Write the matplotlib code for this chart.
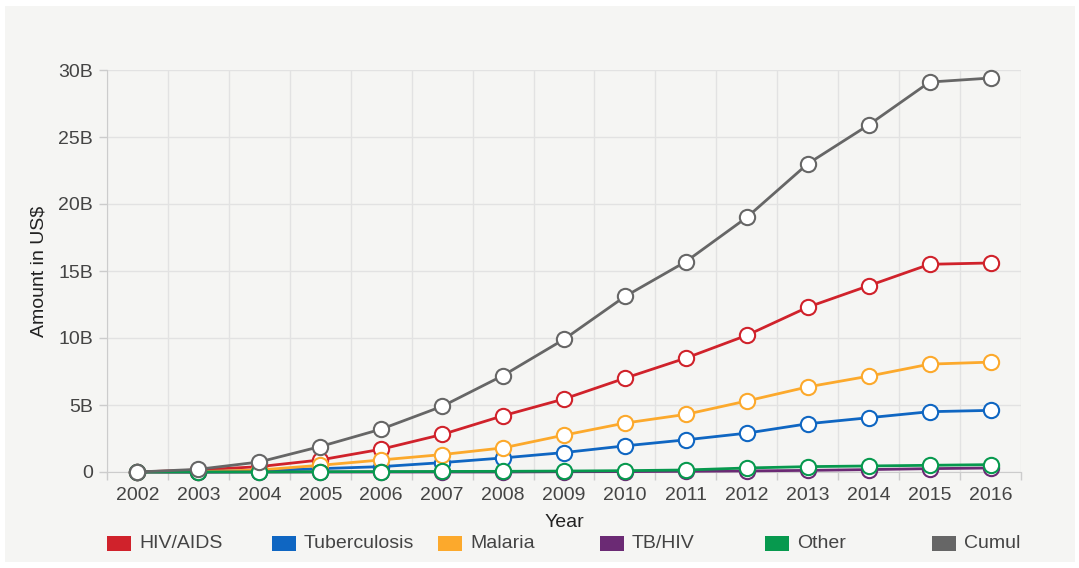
import matplotlib
matplotlib.use("Agg")
import matplotlib.pyplot as plt
from matplotlib.patches import Rectangle
from matplotlib.ticker import FuncFormatter, FixedLocator

plt.rcParams['font.family'] = ['Liberation Sans', 'DejaVu Sans']

years = [2002, 2003, 2004, 2005, 2006, 2007, 2008, 2009, 2010, 2011, 2012, 2013, 2014, 2015, 2016]

# Amounts in billions of US$
hiv_aids = [0.0, 0.15, 0.4, 0.9, 1.7, 2.8, 4.2, 5.45, 7.0, 8.5, 10.2, 12.3, 13.9, 15.5, 15.6]
tuberculosis = [0.0, 0.03, 0.1, 0.25, 0.4, 0.7, 1.05, 1.45, 1.95, 2.4, 2.9, 3.6, 4.05, 4.5, 4.6]
malaria = [0.0, 0.02, 0.15, 0.5, 0.9, 1.3, 1.8, 2.75, 3.65, 4.3, 5.3, 6.35, 7.15, 8.05, 8.2]
tb_hiv = [0.0, -0.02, 0.0, 0.0, 0.0, 0.0, 0.0, 0.02, 0.03, 0.05, 0.08, 0.12, 0.18, 0.25, 0.3]
other = [0.0, 0.0, 0.0, 0.02, 0.03, 0.04, 0.05, 0.07, 0.1, 0.15, 0.3, 0.4, 0.45, 0.5, 0.55]
cumulative = [0.0, 0.2, 0.75, 1.9, 3.2, 4.9, 7.2, 9.9, 13.1, 15.7, 19.0, 23.0, 25.9, 29.1, 29.4]

series_names = ['HIV/AIDS', 'Tuberculosis', 'Malaria', 'TB/HIV', 'Other', 'Cumulative']
series_values = [hiv_aids, tuberculosis, malaria, tb_hiv, other, cumulative]
series_colors = ['#d0222b', '#0f66c2', '#fca92c', '#6b2a74', '#07994e', '#666666']

y_ticks = [0, 5, 10, 15, 20, 25, 30]

W, H = 1079, 568
fig = plt.figure(figsize=(W / 100, H / 100), dpi=100, facecolor='white')

# light panel behind the chart
fig.patches.append(Rectangle((5 / W, 6 / H), 1070 / W, 556 / H, transform=fig.transFigure,
                             facecolor='#f5f5f3', edgecolor='none', zorder=-5))

ax = fig.add_axes([107 / W, 96 / H, 914 / W, 402 / H])
ax.patch.set_alpha(0)

x = list(range(len(years)))
for name, vals, col in zip(series_names, series_values, series_colors):
    ax.plot(x, vals, color=col, lw=2.0, marker='o', ms=11, mfc='white', mec=col,
            mew=1.5, clip_on=False, zorder=3, label=name)

ax.set_xlim(-0.5, len(years) - 0.5)
ax.set_ylim(0, 30)

ax.xaxis.set_major_locator(FixedLocator(x))
ax.set_xticklabels([str(y) for y in years])
ax.xaxis.set_minor_locator(FixedLocator([i - 0.5 for i in range(len(years) + 1)]))
ax.tick_params(axis='x', which='major', length=0, pad=11, labelsize=14, labelcolor='#444444')
ax.tick_params(axis='x', which='minor', length=6, color='#cccccc', width=1)

ax.set_yticks(y_ticks)
ax.yaxis.set_major_formatter(FuncFormatter(lambda v, p: '0' if v == 0 else f'{int(v)}B'))
ax.tick_params(axis='y', length=6, color='#cccccc', width=1, pad=4, labelsize=14,
               labelcolor='#444444')

ax.grid(True, which='major', axis='y', color='#e2e2e2', lw=1, zorder=0)
ax.grid(True, which='minor', axis='x', color='#e2e2e2', lw=1, zorder=0)
ax.set_axisbelow(True)

for side in ['top', 'right']:
    ax.spines[side].set_visible(False)
ax.spines['left'].set_color('#cccccc')
ax.spines['bottom'].set_color('#cccccc')

ax.set_xlabel('Year', fontsize=14, color='#222222', labelpad=7)
ax.set_ylabel('Amount in US$', fontsize=14, color='#222222', labelpad=8)

# legend row beneath the axis, clipped at the chart's right edge
legend_x = [107, 272, 438, 600, 765, 932]
ly = 543
clip_rect = Rectangle((0, 0), 1021 / W, 1, transform=fig.transFigure)
for lx, name, col in zip(legend_x, series_names, series_colors):
    fig.patches.append(Rectangle((lx / W, (H - ly - 7.5) / H), 24 / W, 15 / H,
                                 transform=fig.transFigure, facecolor=col, edgecolor='none'))
    t = fig.text((lx + 32) / W, (H - ly) / H, name, fontsize=14, color='#444444',
                 va='center', ha='left')
    t.set_clip_path(clip_rect)

fig.savefig('out.png', dpi=100, facecolor='white')
